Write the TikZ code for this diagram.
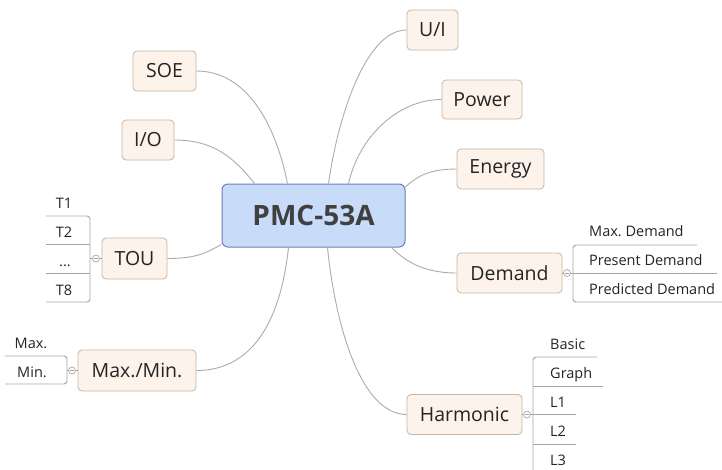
\documentclass[tikz,border=0pt]{standalone}
\usepackage{fontspec}
\setmainfont{Open Sans}
\usetikzlibrary{calc}
\frenchspacing
\definecolor{topicfill}{RGB}{253,243,234}
\definecolor{topicdraw}{RGB}{196,182,168}
\definecolor{cfill}{RGB}{200,220,250}
\definecolor{cdraw}{RGB}{104,128,176}
\definecolor{ctext}{RGB}{64,64,64}
\definecolor{textc}{RGB}{36,36,36}
\definecolor{conncol}{RGB}{172,172,172}
\definecolor{brcol}{RGB}{165,165,165}
\begin{document}
\begin{tikzpicture}[x=1pt,y=-1pt,
  topic/.style={draw=topicdraw, fill=topicfill, rounded corners=4pt, line width=0.8pt,
    text=textc, font=\fontsize{19.5}{22}\selectfont, inner sep=0pt},
  conn/.style={draw=conncol, line width=0.9pt},
  leaf/.style={font=\fontsize{14.5}{16}\selectfont, text=textc, inner sep=0pt},
  br/.style={draw=brcol, line width=0.9pt, rounded corners=3pt},
  knob/.style={circle, draw=brcol, fill=white, minimum size=7pt, inner sep=0pt, line width=0.7pt}]
\clip (0,0) rectangle (722,469);
\fill[white] (0,0) rectangle (722,469);

% central
\node[draw=cdraw, fill=cfill, rounded corners=6pt, line width=1pt, minimum width=183pt,
  minimum height=63pt, inner sep=0pt, font=\bfseries\fontsize{28}{30}\selectfont, text=ctext]
  (c) at (313.5,215.5) {PMC-53A};

% topics
\node[topic, minimum width=63pt, minimum height=40pt] (soe) at (164.5,71) {SOE};
\node[topic, minimum width=52pt, minimum height=40pt] (io) at (148,140) {I/O};
\node[topic, minimum width=51pt, minimum height=40pt] (ui) at (432.5,30) {U/I};
\node[topic, minimum width=80pt, minimum height=39pt] (pow) at (482,99.5) {Power};
\node[topic, minimum width=87pt, minimum height=40pt] (ene) at (500.5,169) {Energy};
\node[topic, minimum width=65pt, minimum height=41pt] (tou) at (134.5,258.5) {TOU};
\node[topic, minimum width=118pt, minimum height=41pt] (mm) at (137,370.5) {Max./Min.};
\node[topic, minimum width=105pt, minimum height=40pt] (dem) at (509.5,273) {Demand};
\node[topic, minimum width=115pt, minimum height=40pt] (har) at (464.5,414.5) {Harmonic};

% attachment points on central topic
\coordinate (cSOE) at ($(c.north west)+(66,0)$);
\coordinate (cIO)  at ($(c.north west)+(33,0)$);
\coordinate (cUI)  at ($(c.north west)+(107,0)$);
\coordinate (cPOW) at ($(c.north west)+(127,0)$);
\coordinate (cENE) at ($(c.north east)+(-1,4)$);
\coordinate (cTOU) at ($(c.south west)+(0,-3)$);
\coordinate (cMM)  at ($(c.south west)+(67,0)$);
\coordinate (cHAR) at ($(c.south west)+(106,0)$);
\coordinate (cDEM) at ($(c.south west)+(170,0)$);

% connectors
\draw[conn] (soe.east) .. controls +(50,0) and +(-12,-60) .. (cSOE);
\draw[conn] (io.east) .. controls +(40,0) and +(-20,-25) .. (cIO);
\draw[conn] (ui.west) .. controls +(-40,0) and +(10,-70) .. (cUI);
\draw[conn] (pow.west) .. controls +(-45,0) and +(10,-45) .. (cPOW);
\draw[conn] (ene.west) .. controls +(-30,0) and +(12,-10) .. (cENE);
\draw[conn] (tou.east) .. controls +(30,0) and +(-15,8) .. (cTOU);
\draw[conn] (mm.east) .. controls +(55,0) and +(-8,75) .. (cMM);
\draw[conn] (har.west) .. controls +(-45,0) and +(8,80) .. (cHAR);
\draw[conn] (dem.west) .. controls +(-35,0) and +(12,12) .. (cDEM);

% TOU branch
\coordinate (touB) at (90,258.5);
\draw[br] (46,216) -- (90,216) -- (90,302) -- (46,302);
\draw[br] (46,244) -- (90,244);
\draw[br] (46,273) -- (90,273);
\draw[br] (touB) -- (tou.west);
\node[knob] (k1) at (96,258.5) {};
\draw[brcol, line width=0.6pt] ([xshift=-2pt]k1.center) -- ([xshift=2pt]k1.center);
\node[leaf, anchor=base] (t1) at (64,208) {T1};
\node[leaf, anchor=base] (t2) at (64,237) {T2};
\node[leaf, anchor=base] (t3) at (65,266) {...};
\node[leaf, anchor=base] (t8) at (64,295) {T8};

% Max./Min. branch
\coordinate (mmB) at (67,370.5);
\draw[br] (5,356) -- (67,356) -- (67,384) -- (5,384);
\draw[br] (mmB) -- (mm.west);
\node[knob] (k2) at (72,370.5) {};
\draw[brcol, line width=0.6pt] ([xshift=-2pt]k2.center) -- ([xshift=2pt]k2.center);
\node[leaf, anchor=base] (mx) at (31,348) {Max.};
\node[leaf, anchor=base] (mn) at (32,377) {Min.};

% Demand branch
\coordinate (demB) at (573,273);
\draw[br] (697,245) -- (573,245) -- (573,302) -- (730,302);
\draw[br] (573,273) -- (717,273);
\draw[br] (dem.east) -- (demB);
\node[knob] (k3) at (567,273) {};
\draw[brcol, line width=0.6pt] ([xshift=-2pt]k3.center) -- ([xshift=2pt]k3.center);
\node[leaf, anchor=base west] (d1) at (589,236) {Max. Demand};
\node[leaf, anchor=base west] (d2) at (589,265) {Present Demand};
\node[leaf, anchor=base west] (d3) at (589,294) {Predicted Demand};

% Harmonic branch
\coordinate (harB) at (533,414.5);
\draw[br] (597,357) -- (533,357) -- (533,473) -- (576,473);
\draw[br] (533,386) -- (603,386);
\draw[br] (533,414.5) -- (576,414.5);
\draw[br] (533,444) -- (576,444);
\draw[br] (har.east) -- (harB);
\node[knob] (k4) at (527,414.5) {};
\draw[brcol, line width=0.6pt] ([xshift=-2pt]k4.center) -- ([xshift=2pt]k4.center);
\node[leaf, anchor=base west] (h1) at (550,349) {Basic};
\node[leaf, anchor=base west] (h2) at (550,378) {Graph};
\node[leaf, anchor=base west] (h3) at (550,407) {L1};
\node[leaf, anchor=base west] (h4) at (550,436) {L2};
\node[leaf, anchor=base west] (h5) at (550,465) {L3};
\end{tikzpicture}
\end{document}
